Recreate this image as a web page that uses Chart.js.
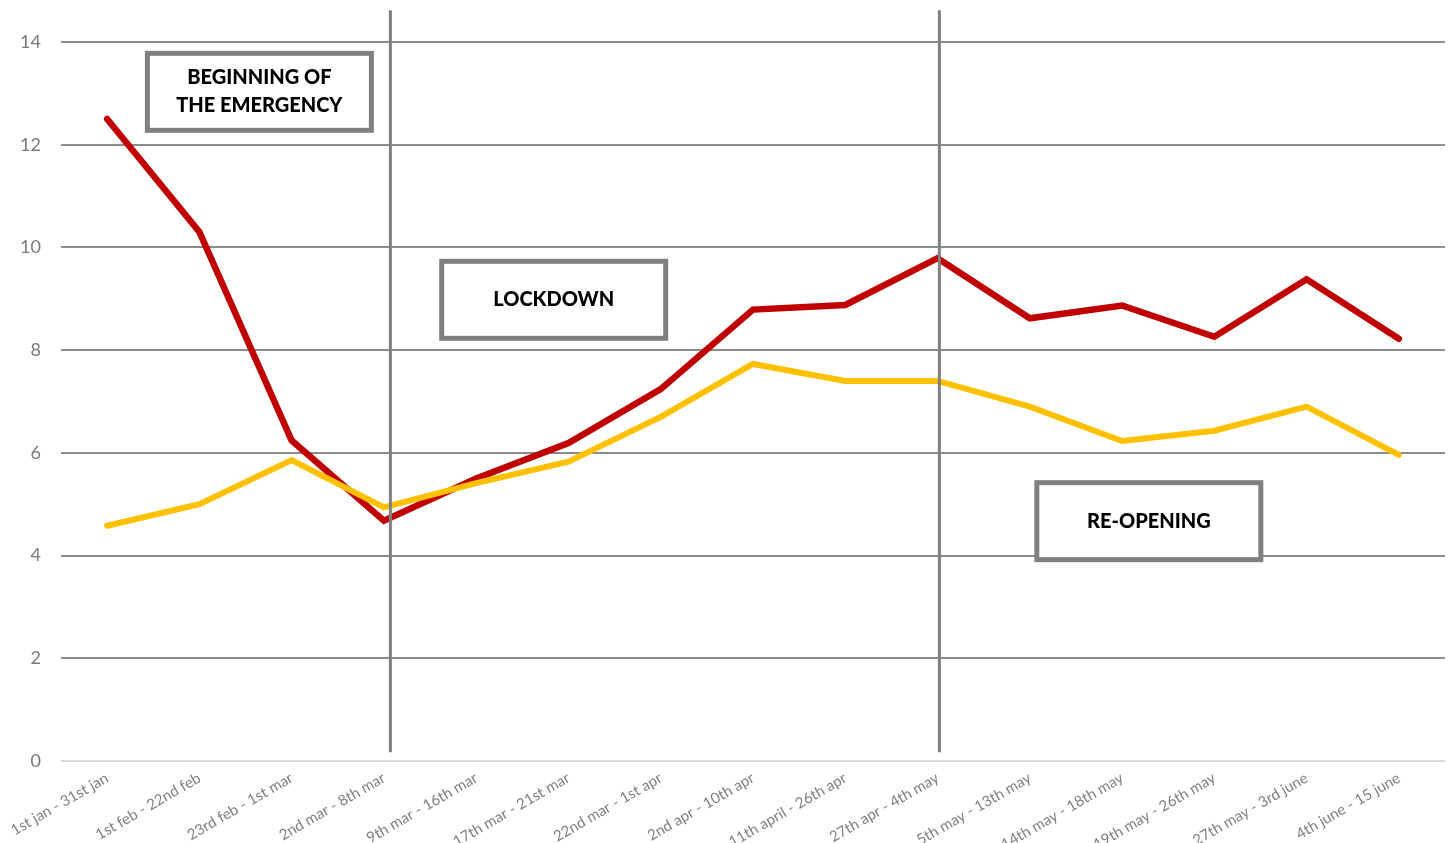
<!DOCTYPE html>
<html>
<head>
<meta charset="utf-8">
<script src="https://cdn.jsdelivr.net/npm/chart.js@4.4.1/dist/chart.umd.min.js"></script>
<style>
  html, body { margin: 0; padding: 0; background: #ffffff; }
  #wrap { position: relative; width: 1451px; height: 843px; }
</style>
</head>
<body>
<div id="wrap"><canvas id="chart" width="1451" height="843"></canvas></div>
<script>
// Weekly periods on the x axis
const categories = [
  "1st jan - 31st jan", "1st feb - 22nd feb", "23rd feb - 1st mar", "2nd mar - 8th mar",
  "9th mar - 16th mar", "17th mar - 21st mar", "22nd mar - 1st apr", "2nd apr - 10th apr",
  "11th april - 26th apr", "27th apr - 4th may", "5th may - 13th may", "14th may - 18th may",
  "19th may - 26th may", "27th may - 3rd june", "4th june - 15 june"
];

// Series values
const redValues = [12.5, 10.3, 6.24, 4.68, 5.5, 6.19, 7.24, 8.79, 8.88, 9.79, 8.62, 8.87, 8.26, 9.38, 8.22];
const yellowValues = [4.58, 5.0, 5.86, 4.94, 5.41, 5.83, 6.70, 7.73, 7.40, 7.40, 6.90, 6.23, 6.43, 6.90, 5.96];

// Y axis ticks
const yTicks = [0, 2, 4, 6, 8, 10, 12, 14];

// Phase labels and the category positions of the dividers between phases
const phaseLabels = [["BEGINNING OF", "THE EMERGENCY"], ["LOCKDOWN"], ["RE-OPENING"]];
const phaseDividers = [3.07, 9.02];

// Where each phase label box sits (category index, value)
const phaseBoxAnchors = [[1.65, 13.03], [4.84, 8.98], [11.29, 4.67]];

const FONT = "Lato, 'Open Sans', sans-serif";

const phasePlugin = {
  id: 'phases',
  afterDatasetsDraw(chart) {
    const ctx = chart.ctx;
    const x = chart.scales.x, y = chart.scales.y;
    ctx.save();
    // divider lines
    ctx.strokeStyle = '#808080';
    ctx.lineWidth = 3;
    phaseDividers.forEach(v => {
      const px = x.getPixelForValue(v);
      ctx.beginPath();
      ctx.moveTo(px, y.getPixelForValue(14.62));
      ctx.lineTo(px, y.getPixelForValue(0.17));
      ctx.stroke();
    });
    // label boxes
    const bw = 224, bh = 77;
    phaseLabels.forEach((lines, i) => {
      const cx = x.getPixelForValue(phaseBoxAnchors[i][0]);
      const cy = y.getPixelForValue(phaseBoxAnchors[i][1]);
      ctx.fillStyle = '#ffffff';
      ctx.fillRect(cx - bw / 2, cy - bh / 2, bw, bh);
      ctx.strokeStyle = '#808080';
      ctx.lineWidth = 5;
      ctx.strokeRect(cx - bw / 2, cy - bh / 2, bw, bh);
      ctx.fillStyle = '#000000';
      ctx.font = "900 20px " + FONT;
      ctx.textAlign = 'center';
      ctx.textBaseline = 'middle';
      const lh = 28;
      lines.forEach((t, k) => {
        ctx.fillText(t, cx, cy + (k - (lines.length - 1) / 2) * lh);
      });
    });
    ctx.restore();
  }
};

new Chart(document.getElementById('chart'), {
  type: 'line',
  data: {
    labels: categories,
    datasets: [
      {
        label: 'Yellow series',
        data: yellowValues,
        borderColor: '#FFC000',
        borderWidth: 6,
        pointRadius: 0,
        tension: 0,
        borderCapStyle: 'round',
        borderJoinStyle: 'miter'
      },
      {
        label: 'Red series',
        data: redValues,
        borderColor: '#C00000',
        borderWidth: 6.5,
        pointRadius: 0,
        tension: 0,
        borderCapStyle: 'round',
        borderJoinStyle: 'miter'
      }
    ]
  },
  options: {
    responsive: false,
    animation: false,
    events: [],
    layout: { padding: { top: 42, right: 6, left: 0, bottom: 0 } },
    plugins: { legend: { display: false }, tooltip: { enabled: false } },
    scales: {
      x: {
        offset: true,
        grid: { display: false },
        border: { display: false },
        ticks: {
          minRotation: 30,
          maxRotation: 30,
          autoSkip: false,
          padding: 0,
          color: '#808080',
          font: { family: FONT, size: 15 }
        },
        afterFit(scale) { scale.height = 82; }
      },
      y: {
        min: 0,
        max: 14,
        afterBuildTicks(scale) { scale.ticks = yTicks.map(v => ({ value: v })); },
        grid: {
          drawTicks: false,
          lineWidth: 2,
          color: ctx => (ctx.tick && ctx.tick.value === 0) ? '#d9d9d9' : '#8c8c8c'
        },
        border: { display: false },
        ticks: {
          padding: 20,
          color: '#7a7a7a',
          font: { family: FONT, size: 18 }
        },
        afterFit(scale) { scale.width = 61; }
      }
    }
  },
  plugins: [phasePlugin]
});
</script>
</body>
</html>
